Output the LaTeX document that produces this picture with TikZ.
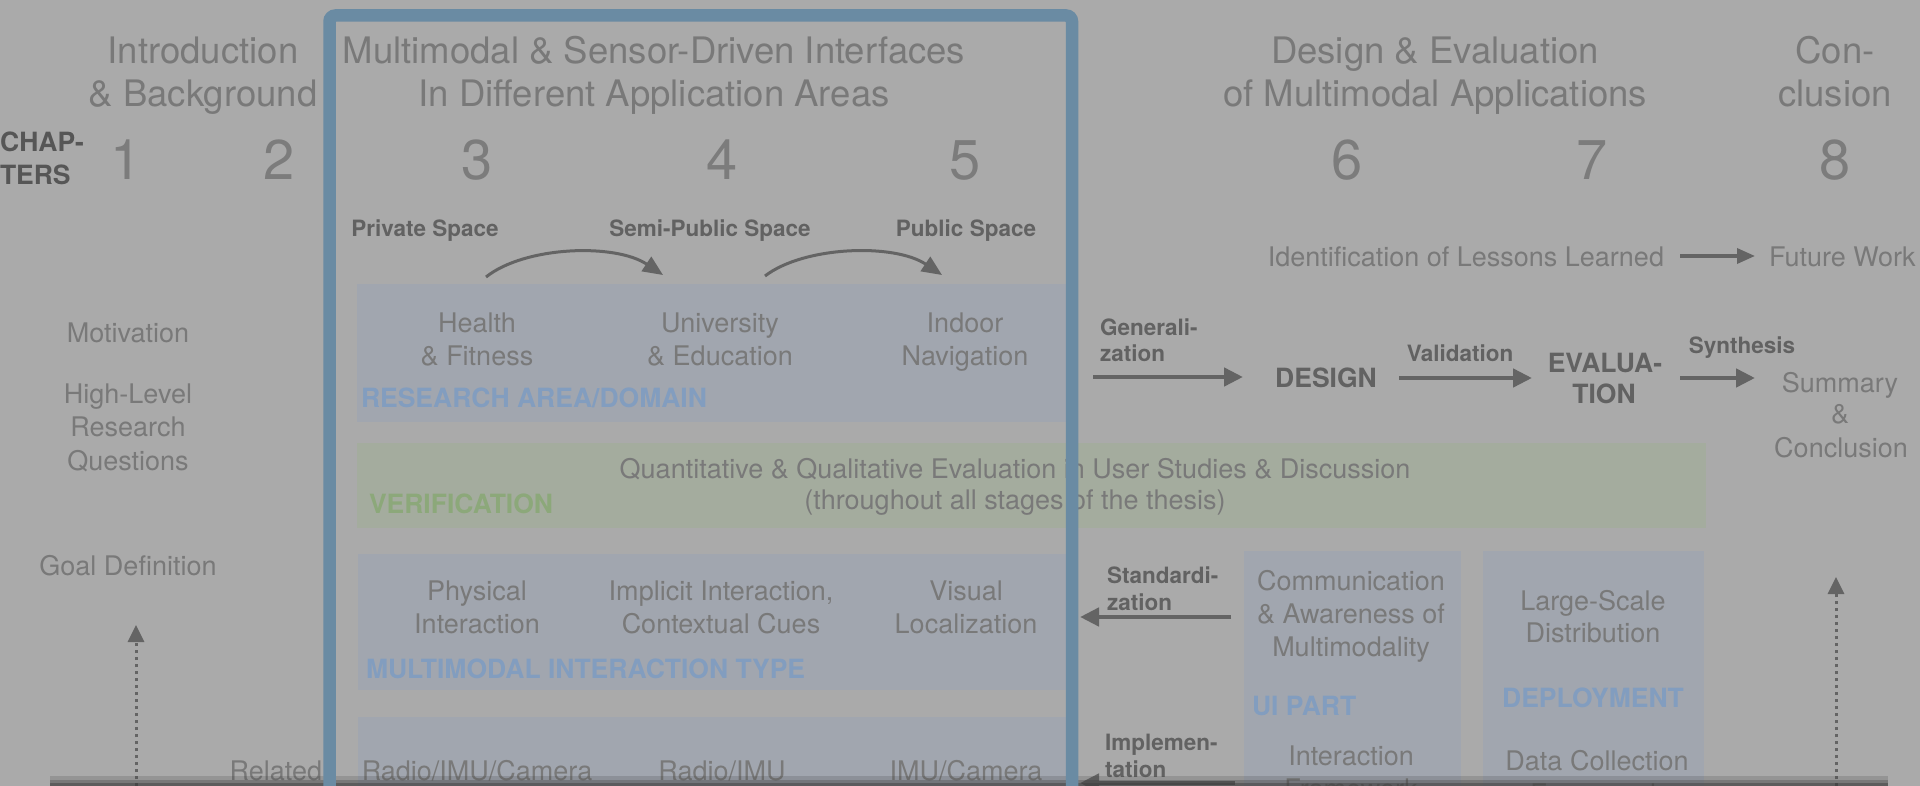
\documentclass[tikz,border=0pt]{standalone}
\usepackage{fontspec}
\setmainfont{TeX Gyre Heros}
\usetikzlibrary{arrows.meta}

\definecolor{bg}{RGB}{170,170,170}
\definecolor{bandblue}{RGB}{161,166,175}
\definecolor{bandgreen}{RGB}{164,172,158}
\definecolor{txtgrey}{RGB}{121,121,121}
\definecolor{numgrey}{RGB}{124,124,124}
\definecolor{lblgrey}{RGB}{98,98,98}
\definecolor{chapgrey}{RGB}{86,86,86}
\definecolor{tagblue}{RGB}{130,157,191}
\definecolor{taggreen}{RGB}{140,168,122}
\definecolor{frameblue}{RGB}{106,139,163}
\definecolor{arrowgrey}{RGB}{100,100,100}
\definecolor{shadowgrey}{RGB}{60,60,60}

\tikzset{
  every node/.style={inner sep=0pt, outer sep=0pt},
  title/.style={font=\fontsize{36.5}{44}\selectfont, text=txtgrey, anchor=base},
  chapnum/.style={font=\fontsize{56}{60}\selectfont, text=numgrey, anchor=base},
  chaptag/.style={font=\bfseries\fontsize{26.5}{32}\selectfont, text=chapgrey, anchor=base west},
  body/.style={font=\fontsize{27}{33}\selectfont, text=txtgrey, anchor=base},
  smalllbl/.style={font=\bfseries\fontsize{22.5}{27}\selectfont, text=lblgrey, anchor=base},
  biglbl/.style={font=\bfseries\fontsize{26.5}{32}\selectfont, text=lblgrey, anchor=base},
  bluetag/.style={font=\bfseries\fontsize{26.5}{32}\selectfont, text=tagblue, anchor=base west},
  greentag/.style={font=\bfseries\fontsize{26.5}{32}\selectfont, text=taggreen, anchor=base west},
  blueband/.style={fill=bandblue},
  greenband/.style={fill=bandgreen},
  flow/.style={draw=arrowgrey, line width=4.5pt, -{Triangle[length=19pt,width=18pt]}},
  thinflow/.style={draw=arrowgrey, line width=3.5pt, -{Triangle[length=18pt,width=15pt]}},
  arcflow/.style={draw=arrowgrey, line width=3pt, -{Triangle[length=20pt,width=17pt]}},
  dotflow/.style={draw=arrowgrey, line width=3pt, dash pattern=on 3pt off 4pt, -{Triangle[length=17pt,width=16pt]}},
}

\begin{document}
\begin{tikzpicture}[x=1pt,y=-1pt]
  % canvas
  \fill[bg] (0,0) rectangle (1920,786);
  \useasboundingbox (0,0) rectangle (1920,786);
  \clip (0,0) rectangle (1920,786);

  % bands
  \fill[blueband]  (357,284) rectangle (1066,422);
  \fill[greenband] (357,443) rectangle (1706,528);
  \fill[blueband]  (358,554) rectangle (1066,690);
  \fill[blueband]  (358,717) rectangle (1066,800);
  \fill[blueband]  (1244,551) rectangle (1461,800);
  \fill[blueband]  (1483,551) rectangle (1704,800);

  % part titles
  \node[title] (ta1) at (203,64)  {Introduction};
  \node[title] (ta2) at (203,107) {\& Background};
  \node[title] (tb1) at (654,64)  {Multimodal \& Sensor-Driven Interfaces};
  \node[title] (tb2) at (654,107) {In Different Application Areas};
  \node[title] (tc1) at (1435,64) {Design \& Evaluation};
  \node[title] (tc2) at (1435,107){of Multimodal Applications};
  \node[title] (td1) at (1835,64) {Con-};
  \node[title] (td2) at (1835,107){clusion};

  % chapter row
  \node[chaptag] (chapa) at (0,152) {CHAP-};
  \node[chaptag] (chapb) at (0,185) {TERS};
  \node[chapnum] (c1) at (126,180)  {1};
  \node[chapnum] (c2) at (279,180)  {2};
  \node[chapnum] (c3) at (477,180)  {3};
  \node[chapnum] (c4) at (722,180)  {4};
  \node[chapnum] (c5) at (965,180)  {5};
  \node[chapnum] (c6) at (1347,180) {6};
  \node[chapnum] (c7) at (1592,180) {7};
  \node[chapnum] (c8) at (1835,180) {8};

  % spaces
  \node[smalllbl] (priv) at (425,237) {Private Space};
  \node[smalllbl] (semi) at (710,237) {Semi-Public Space};
  \node[smalllbl] (publ) at (966,237) {Public Space};
  \coordinate (arcAs) at (486,277);
  \coordinate (arcAe) at (663,275);
  \coordinate (arcBs) at (765,276);
  \coordinate (arcBe) at (942,275);
  \draw[arcflow] (arcAs) .. controls (525,246) and (615,243) .. (arcAe);
  \draw[arcflow] (arcBs) .. controls (804,246) and (894,243) .. (arcBe);

  % left column
  \node[body] (motiv) at (128,343) {Motivation};
  \node[body] (hlq1) at (128,403) {High-Level};
  \node[body] (hlq2) at (128,436) {Research};
  \node[body] (hlq3) at (128,470) {Questions};
  \node[body] (goal) at (128,575) {Goal Definition};
  \node[body, anchor=base east] (relw) at (322,780) {Related};

  % research area
  \node[body] (ra1a) at (477,333) {Health};
  \node[body] (ra1b) at (477,366) {\& Fitness};
  \node[body] (ra2a) at (720,333) {University};
  \node[body] (ra2b) at (720,366) {\& Education};
  \node[body] (ra3a) at (965,333) {Indoor};
  \node[body] (ra3b) at (965,366) {Navigation};
  \node[bluetag] (ratag) at (361,407) {RESEARCH AREA/DOMAIN};

  % verification
  \node[body] (ver1) at (1015,478) {Quantitative \& Qualitative Evaluation in User Studies \& Discussion};
  \node[body] (ver2) at (1015,509) {(throughout all stages of the thesis)};
  \node[greentag] (vertag) at (369,513) {VERIFICATION};

  % interaction types
  \node[body] (it1a) at (477,600) {Physical};
  \node[body] (it1b) at (477,633) {Interaction};
  \node[body] (it2a) at (721,600) {Implicit Interaction,};
  \node[body] (it2b) at (721,633) {Contextual Cues};
  \node[body] (it3a) at (966,600) {Visual};
  \node[body] (it3b) at (966,633) {Localization};
  \node[bluetag] (ittag) at (366,678) {MULTIMODAL INTERACTION TYPE};

  % sensors
  \node[body] (se1) at (477,780) {Radio/IMU/Camera};
  \node[body] (se2) at (722,780) {Radio/IMU};
  \node[body] (se3) at (966,780) {IMU/Camera};

  % design and evaluation chain
  \node[smalllbl, anchor=base west] (gen1) at (1100,335) {Generali-};
  \node[smalllbl, anchor=base west] (gen2) at (1100,362) {zation};
  \node[biglbl] (design) at (1326,387) {DESIGN};
  \node[smalllbl] (valid) at (1460,362) {Validation};
  \node[biglbl] (eval1) at (1605,372) {EVALUA-};
  \node[biglbl] (eval2) at (1604,403) {TION};
  \node[smalllbl] (synth) at (1742,354) {Synthesis};
  \node[body] (sum1) at (1840,392) {Summary};
  \node[body] (sum2) at (1840,423) {\&};
  \node[body] (sum3) at (1841,457) {Conclusion};
  \coordinate (genS) at (1093,377);
  \coordinate (genE) at (1243,377);
  \coordinate (valS) at (1399,378);
  \coordinate (valE) at (1532,378);
  \coordinate (synS) at (1680,378);
  \coordinate (synE) at (1755,378);
  \draw[flow] (genS) -- (genE);
  \draw[flow] (valS) -- (valE);
  \draw[flow] (synS) -- (synE);

  % lessons learned
  \node[body, anchor=base east] (lessons) at (1664,267) {Identification of Lessons Learned};
  \node[body, anchor=base west] (future) at (1769,267) {Future Work};
  \coordinate (lesS) at (1680,256);
  \coordinate (lesE) at (1755,256);
  \draw[thinflow] (lesS) -- (lesE);

  % ui part
  \node[body] (ui1) at (1351,590) {Communication};
  \node[body] (ui2) at (1351,623) {\& Awareness of};
  \node[body] (ui3) at (1351,656) {Multimodality};
  \node[bluetag] (uitag) at (1252,715) {UI PART};
  \node[body] (ui4) at (1351,765) {Interaction};
  \node[body] (ui5) at (1351,798) {Framework};

  % deployment
  \node[body] (dp1) at (1593,610) {Large-Scale};
  \node[body] (dp2) at (1593,642) {Distribution};
  \node[bluetag, anchor=base] (dptag) at (1593,707) {DEPLOYMENT};
  \node[body] (dp3) at (1597,770) {Data Collection};
  \node[body] (dp4) at (1597,803) {Framework};

  % feedback arrows
  \node[smalllbl, anchor=base west] (std1) at (1107,583) {Standardi-};
  \node[smalllbl, anchor=base west] (std2) at (1107,610) {zation};
  \node[smalllbl, anchor=base west] (imp1) at (1105,750) {Implemen-};
  \node[smalllbl, anchor=base west] (imp2) at (1105,777) {tation};
  \coordinate (stdS) at (1231,617);
  \coordinate (stdE) at (1080,617);
  \coordinate (impS) at (1235,783);
  \coordinate (impE) at (1080,783);
  \draw[flow] (stdS) -- (stdE);
  \draw[flow] (impS) -- (impE);

  % dotted arrows
  \coordinate (dlS) at (136,800);
  \coordinate (dlE) at (136,625);
  \coordinate (drS) at (1836,800);
  \coordinate (drE) at (1836,577);
  \draw[dotflow] (dlS) -- (dlE);
  \draw[dotflow] (drS) -- (drE);

  % shadow along the lower edge
  \fill[shadowgrey, opacity=0.2]  (50,776) rectangle (1888,780);
  \fill[shadowgrey, opacity=0.45] (50,780) rectangle (1888,783);
  \fill[shadowgrey, opacity=0.7]  (50,783) rectangle (1888,786);

  % highlighted chapter group
  \draw[frameblue, line width=12.5pt, rounded corners=6pt]
    (329.5,830) -- (329.5,15.5) -- (1072,15.5) -- (1072,830);
\end{tikzpicture}
\end{document}
